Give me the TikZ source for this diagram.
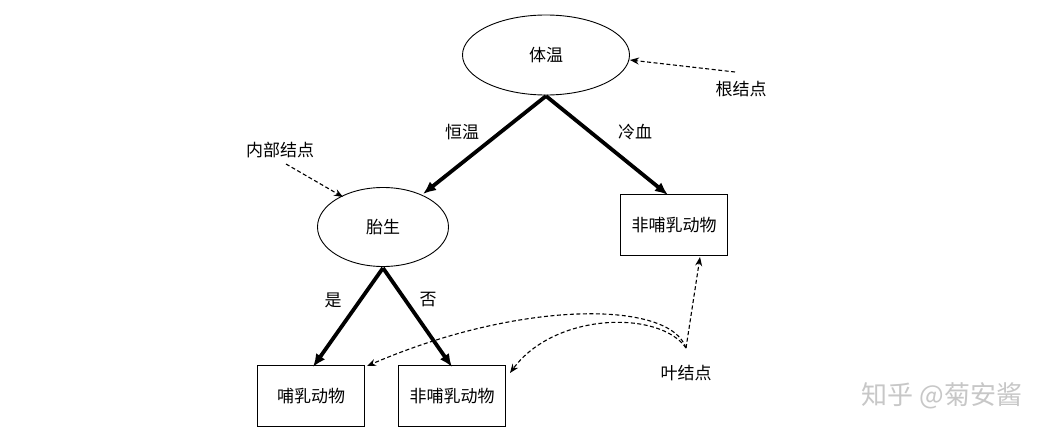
\documentclass[tikz,border=0pt]{standalone}
\usepackage{fontspec}
\newfontfamily\cjk{Noto Sans CJK SC}
\usetikzlibrary{shapes.geometric,arrows.meta}
\begin{document}
\begin{tikzpicture}[x=1pt,y=-1pt,
  every node/.style={font=\cjk\fontsize{17}{19}\selectfont, inner sep=0pt},
  decision/.style={ellipse, draw, line width=0.9pt},
  leafbox/.style={rectangle, draw, line width=0.9pt, minimum width=107pt, minimum height=61pt},
  branch/.style={line width=3.8pt, -{Latex[length=13pt,width=11pt]}},
  pointer/.style={line width=1.1pt, dash pattern=on 4pt off 2.5pt, -{Stealth[length=9pt,width=7pt]}},
  lab/.style={}]
\useasboundingbox (0,0) rectangle (1054,439);
\fill[white] (0,0) rectangle (1054,439);
% nodes
\node[decision, minimum width=167pt, minimum height=80pt] (root) at (546,55) {体温};
\node[decision, minimum width=131pt, minimum height=79pt] (birth) at (383,227) {胎生};
\node[leafbox] (cold) at (674,225) {非哺乳动物};
\node[leafbox] (mam) at (311,396) {哺乳动物};
\node[leafbox] (nonmam) at (452,396) {非哺乳动物};
% labels
\node[lab] (rootlab) at (741,89) {根结点};
\node[lab] (innerlab) at (280,150) {内部结点};
\node[lab] (leaflab) at (686,373) {叶结点};
\node[lab] (warm) at (462,132) {恒温};
\node[lab] (coldlab) at (635,132) {冷血};
\node[lab] (yes) at (333,300) {是};
\node[lab] (no) at (428,300) {否};
% branches
\coordinate (rb) at (546,96);
\coordinate (bb) at (383,268);
\draw[branch] (rb) -- (423,194);
\draw[branch] (rb) -- (668,195);
\draw[branch] (bb) -- (313,367);
\draw[branch] (bb) -- (452,367);
% pointers
\coordinate (rootsrc) at (735,72);
\coordinate (innersrc) at (286,164);
\coordinate (leafsrc) at (686,348);
\draw[pointer] (rootsrc) -- (root.east |- 0,60);
\draw[pointer] (innersrc) -- (343,197);
\draw[pointer] (leafsrc) -- (700,257);
\draw[pointer] (leafsrc) .. controls (670,300) and (520,300) .. (367,366);
\draw[pointer] (leafsrc) .. controls (660,310) and (555,312) .. (510,373);
% watermark
\node[font=\cjk\fontsize{26}{28}\selectfont, text=black!22] (wm) at (942,396) {知乎 @菊安酱};
\end{tikzpicture}
\end{document}
